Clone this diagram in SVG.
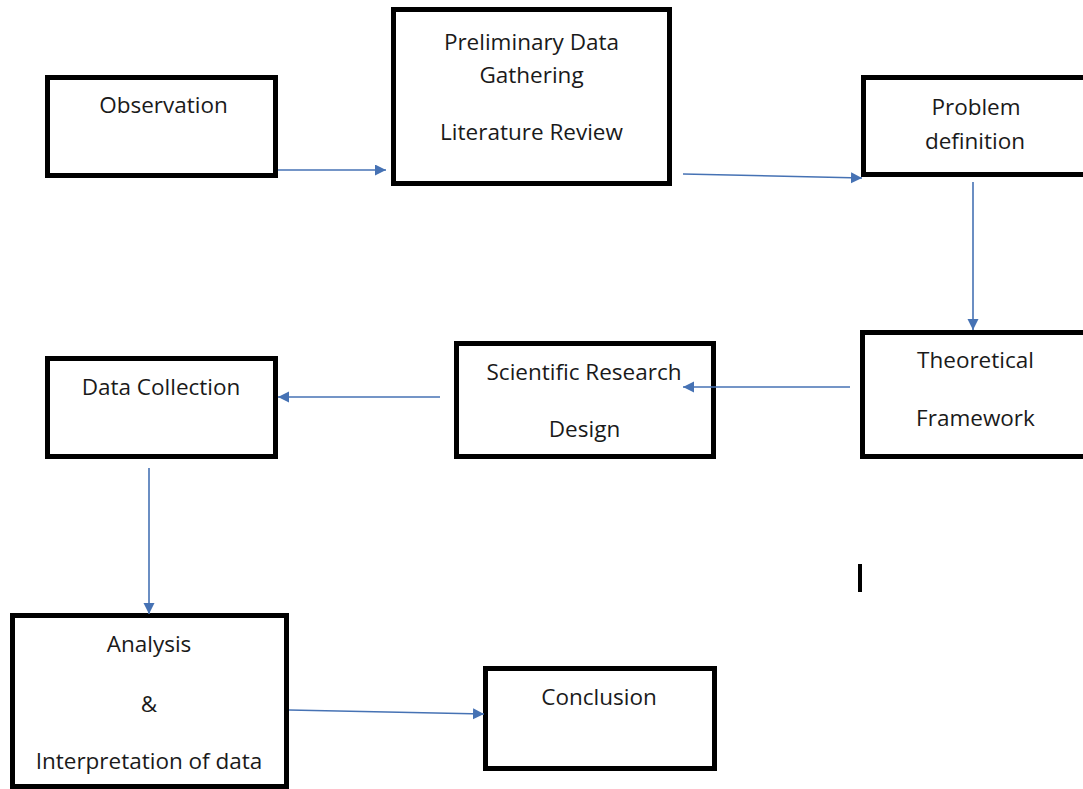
<svg xmlns="http://www.w3.org/2000/svg" width="1083" height="789" viewBox="0 0 1083 789">
<style>
.box{fill:#fff;stroke:#000;stroke-width:5}
.t{font-family:"Open Sans","Liberation Sans",sans-serif;font-size:22.5px;fill:#1a1a1a;text-anchor:middle}
.c{stroke:#4672b4;stroke-width:1.6;fill:none;marker-end:url(#ah)}
</style>
<defs>
<marker id="ah" markerUnits="userSpaceOnUse" markerWidth="12" markerHeight="12" refX="11" refY="5.5" orient="auto">
<path d="M0,0 L11,5.5 L0,11 z" fill="#4672b4"/>
</marker>
</defs>
<rect width="1083" height="789" fill="#fff"/>
<g id="observation">
<rect class="box" x="47.5" y="77.5" width="228" height="98"/>
<text class="t" x="163.5" y="113">Observation</text>
</g>
<g id="preliminary">
<rect class="box" x="393.5" y="9.5" width="276" height="174"/>
<text class="t" x="531.5" y="50">Preliminary Data</text>
<text class="t" x="531.5" y="83">Gathering</text>
<text class="t" x="531.5" y="140">Literature Review</text>
</g>
<g id="problem">
<rect class="box" x="863.5" y="77.5" width="230" height="97"/>
<text class="t" x="976" y="115">Problem</text>
<text class="t" x="975" y="149">definition</text>
</g>
<g id="theoretical">
<rect class="box" x="862.5" y="332.5" width="230" height="124"/>
<text class="t" x="975.5" y="368">Theoretical</text>
<text class="t" x="975.5" y="426">Framework</text>
</g>
<g id="scientific">
<rect class="box" x="456.5" y="343.5" width="257" height="113"/>
<text class="t" x="584" y="380">Scientific Research</text>
<text class="t" x="584.5" y="437">Design</text>
</g>
<g id="datacollection">
<rect class="box" x="47.5" y="358.5" width="228" height="98"/>
<text class="t" x="161" y="395">Data Collection</text>
</g>
<g id="analysis">
<rect class="box" x="12.5" y="615.5" width="274" height="171"/>
<text class="t" x="149" y="652">Analysis</text>
<text class="t" x="149" y="712">&amp;</text>
<text class="t" x="149" y="769">Interpretation of data</text>
</g>
<g id="conclusion">
<rect class="box" x="485.5" y="668.5" width="229" height="100"/>
<text class="t" x="599" y="705">Conclusion</text>
</g>
<g id="connectors">
<line class="c" x1="278" y1="170" x2="386" y2="170"/>
<line class="c" x1="683" y1="174" x2="862" y2="178"/>
<line class="c" x1="973" y1="182" x2="973" y2="330"/>
<line class="c" x1="850" y1="387" x2="683" y2="387"/>
<line class="c" x1="440" y1="397" x2="278" y2="397"/>
<line class="c" x1="149" y1="468" x2="149" y2="614"/>
<line class="c" x1="289" y1="710" x2="484" y2="714"/>
</g>
<rect x="858" y="564" width="4" height="28" fill="#000"/>
</svg>
